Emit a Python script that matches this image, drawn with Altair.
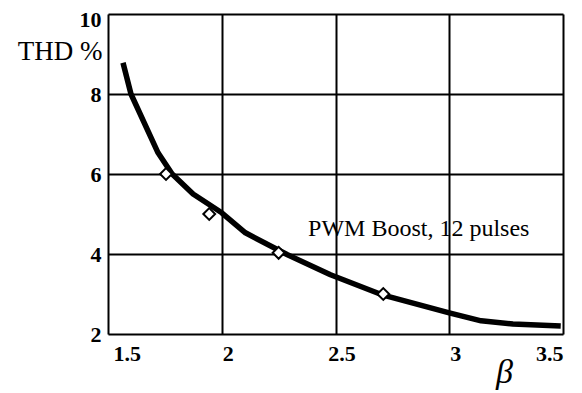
import altair as alt
import pandas as pd

# Curve
curve_x = [1.566, 1.601, 1.72, 1.782, 1.874, 2.0, 2.104, 2.289, 2.478, 2.71, 3.0, 3.14, 3.28, 3.49]
curve_y = [8.78, 8.0, 6.53, 6.0, 5.5, 5.03, 4.53, 3.98, 3.48, 2.97, 2.53, 2.33, 2.25, 2.2]

# Measured points (diamonds)
pts_x = [1.755, 1.945, 2.25, 2.71]
pts_y = [6.0, 5.0, 4.03, 3.0]

# Annotation
note_text = ["PWM Boost, 12 pulses"]
note_x = [2.866]
note_y = [4.62]

x_ticks = [1.5, 2, 2.5, 3, 3.5]
y_ticks = [2, 4, 6, 8, 10]

FONT = "Liberation Serif"

curve_df = pd.DataFrame({"beta": curve_x, "thd": curve_y})
pts_df = pd.DataFrame({"beta": pts_x, "thd": pts_y})
note_df = pd.DataFrame({"beta": note_x, "thd": note_y, "label": note_text})

xscale = alt.Scale(domain=[1.5, 3.5], nice=False, zero=False)
yscale = alt.Scale(domain=[2, 10], nice=False, zero=False)

xaxis = alt.Axis(
    values=x_ticks, title="β", grid=True, gridColor="black", gridWidth=2,
    gridOpacity=1, domain=False, ticks=False, format="~r",
    labelFont=FONT, labelFontSize=22, labelFontWeight="bold", labelColor="black",
    labelPadding=9, labelFlush=False,
    labelAlign={"condition": [
        {"test": "datum.value == 1.5", "value": "left"},
        {"test": "datum.value == 3.5", "value": "right"},
    ], "value": "center"},
    labelOffset={"condition": [
        {"test": "datum.value == 1.5", "value": 5},
        {"test": "datum.value == 3.5", "value": 0},
    ], "value": 6},
    titleFont=FONT, titleFontSize=34, titleFontStyle="italic", titleFontWeight="normal",
    titleColor="black", titleX=396, titleY=38, titleAnchor="middle", titleBaseline="middle",
)
yaxis = alt.Axis(
    values=y_ticks, title="THD %", grid=True, gridColor="black", gridWidth=2,
    gridOpacity=1, domain=False, ticks=False, format="d",
    labelFont=FONT, labelFontSize=22, labelFontWeight="bold", labelColor="black",
    labelPadding=7, labelBaseline="middle",
    labelOffset={"condition": {"test": "datum.value == 10", "value": 5}, "value": 0},
    titleFont=FONT, titleFontSize=27, titleFontWeight="normal", titleColor="black",
    titleAngle=0, titleX=-6, titleY=37, titleAlign="right", titleBaseline="middle",
)

line = alt.Chart(curve_df).mark_line(color="black", strokeWidth=5.5, interpolate="linear",
                                     strokeJoin="round", strokeCap="butt").encode(
    x=alt.X("beta:Q", scale=xscale, axis=xaxis),
    y=alt.Y("thd:Q", scale=yscale, axis=yaxis),
)

points = alt.Chart(pts_df).mark_point(
    shape="diamond", size=140, filled=True, fill="white", stroke="black", strokeWidth=2, opacity=1
).encode(
    x=alt.X("beta:Q", scale=xscale),
    y=alt.Y("thd:Q", scale=yscale),
)

note = alt.Chart(note_df).mark_text(
    font=FONT, fontSize=24, color="black", align="center", baseline="middle"
).encode(
    x=alt.X("beta:Q", scale=xscale),
    y=alt.Y("thd:Q", scale=yscale),
    text="label:N",
)

chart = (
    alt.layer(line, points, note)
    .properties(
        width=455, height=320,
        autosize=alt.AutoSizeParams(type="none"),
        padding={"left": 100, "top": 6, "right": 11, "bottom": 59},
    )
    .configure_view(stroke="black", strokeWidth=3)
    .configure(background="white")
)

chart.save("out.html", embed_options={"renderer": "svg", "actions": False})
